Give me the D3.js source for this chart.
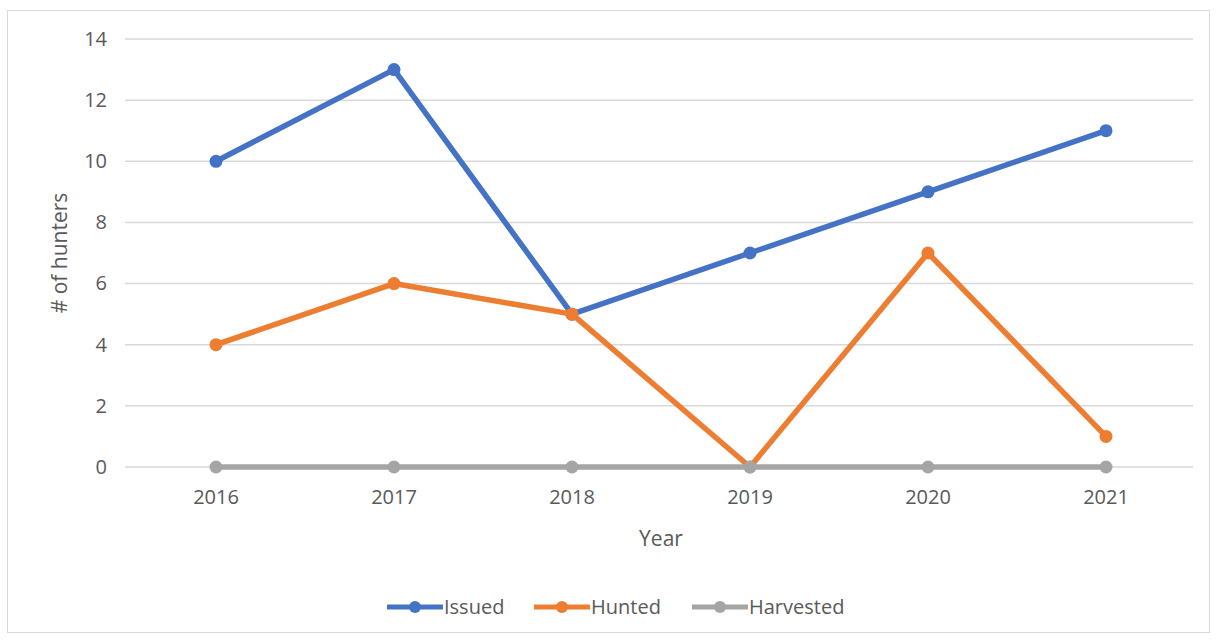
<!DOCTYPE html>
<html><head><meta charset="utf-8">
<script src="https://cdn.jsdelivr.net/npm/d3@7"></script>
<style>body{margin:0;background:#fff}svg{display:block}text{font-family:"Open Sans","Liberation Sans",sans-serif;fill:#595959}</style>
</head><body>
<svg id="c" width="1219" height="642"></svg>
<script>
const years = ["2016","2017","2018","2019","2020","2021"];
const issued = [10,13,5,7,9,11];
const hunted = [4,6,5,0,7,1];
const harvested = [0,0,0,0,0,0];
const yTicks = [0,2,4,6,8,10,12,14];
const seriesNames = ["Issued","Hunted","Harvested"];
const colors = ["#4472C4","#ED7D31","#A5A5A5"];

const svg = d3.select("#c");
svg.append("rect").attr("x",7.5).attr("y",10.5).attr("width",1202).attr("height",622).attr("fill","#fff").attr("stroke","#d9d9d9");

const x = d3.scaleBand().domain(years).range([127,1195]);
const y = d3.scaleLinear().domain([0,14]).range([467,39]);

const grid = svg.append("g");
grid.selectAll("line").data(yTicks).join("line")
  .attr("x1",125).attr("x2",1193).attr("y1",d=>y(d)).attr("y2",d=>y(d))
  .attr("stroke","#d9d9d9").attr("stroke-width",1.5);

const yAxis = svg.append("g").attr("transform","translate(107,0)")
  .call(d3.axisLeft(y).tickValues(yTicks).tickSize(0).tickPadding(0));
yAxis.select(".domain").remove();
yAxis.selectAll("text").attr("font-size",20).style("font-family","'Open Sans',sans-serif").attr("fill","#595959");

const xAxis = svg.append("g").attr("transform","translate(0,486)")
  .call(d3.axisBottom(x).tickSize(0).tickPadding(0));
xAxis.select(".domain").remove();
xAxis.selectAll("text").attr("font-size",20).attr("dy","0.9em").attr("fill","#595959");

svg.append("text").attr("x",661).attr("y",546).attr("text-anchor","middle").attr("font-size",21).text("Year");
svg.append("text").attr("transform","translate(67,253) rotate(-90)").attr("text-anchor","middle").attr("font-size",21).text("# of hunters");

const data = [issued,hunted,harvested];
const line = d3.line().x((d,i)=>x(years[i])+x.bandwidth()/2).y(d=>y(d));
data.forEach((s,k)=>{
  const g = svg.append("g");
  g.append("path").attr("d",line(s)).attr("fill","none").attr("stroke",colors[k]).attr("stroke-width",5.5).attr("stroke-linejoin","round");
  g.selectAll("circle").data(s).join("circle")
    .attr("cx",(d,i)=>x(years[i])+x.bandwidth()/2).attr("cy",d=>y(d)).attr("r",6.5).attr("fill",colors[k]);
});

const legend = svg.append("g");
const lx = [387,534,692];
seriesNames.forEach((n,k)=>{
  const g = legend.append("g").attr("transform",`translate(${lx[k]},607)`);
  g.append("line").attr("x1",0).attr("x2",56).attr("stroke",colors[k]).attr("stroke-width",5);
  g.append("circle").attr("cx",28).attr("r",6).attr("fill",colors[k]);
  g.append("text").attr("x",57).attr("dy","0.35em").attr("font-size",20).text(n);
});
</script>
</body></html>
